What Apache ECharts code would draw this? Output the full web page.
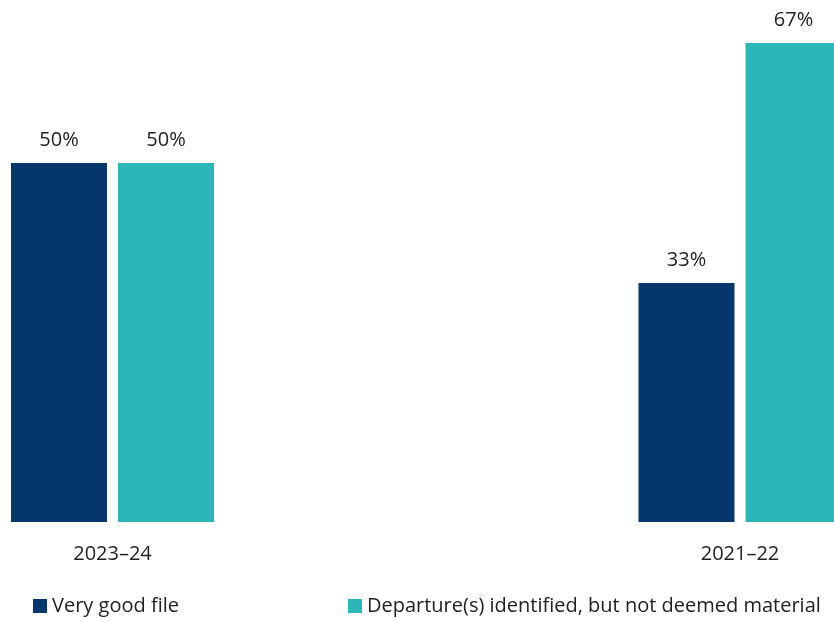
<!DOCTYPE html>
<html>
<head>
<meta charset="utf-8">
<script src="https://cdn.jsdelivr.net/npm/echarts@6/dist/echarts.min.js"></script>
<style>
  html, body { margin: 0; padding: 0; background: #fff; }
  #chart { width: 834px; height: 621px; }
</style>
</head>
<body>
<div id="chart"></div>
<script>
const years = ["2023–24", "2021–22"];
const seriesNames = ["Very good file", "Departure(s) identified, but not deemed material"];
const veryGood = [50, 33.3];
const departure = [50, 66.7];

const colors = ["#05366c", "#2cb6b7"];
const font = "'Open Sans', 'Noto Sans', sans-serif";

const chart = echarts.init(document.getElementById("chart"));

const barStyle = (name, data, color) => ({
  name,
  type: "bar",
  data,
  barWidth: 96,
  barGap: "11.5%",
  clip: false,
  itemStyle: { color },
  label: {
    show: true,
    position: "top",
    distance: 13,
    color: "#222",
    fontSize: 20,
    fontFamily: font,
    formatter: (p) => Math.round(p.value) + "%",
  },
});

chart.setOption({
  animation: false,
  grid: { left: 112.5, right: 94, top: 19.4, bottom: 99 },
  legend: {
    left: 33,
    top: 596,
    padding: 0,
    itemWidth: 14,
    itemHeight: 14,
    itemGap: 169,
    icon: "rect",
    textStyle: { color: "#222", fontSize: 20, fontFamily: font },
    data: seriesNames,
  },
  xAxis: {
    type: "category",
    data: years,
    boundaryGap: false,
    axisLine: { show: false },
    axisTick: { show: false },
    axisLabel: { color: "#222", fontSize: 20, fontFamily: font, margin: 22.5 },
  },
  yAxis: { type: "value", min: 0, max: 70, show: false },
  series: [
    barStyle(seriesNames[0], veryGood, colors[0]),
    barStyle(seriesNames[1], departure, colors[1]),
  ],
});
</script>
</body>
</html>
